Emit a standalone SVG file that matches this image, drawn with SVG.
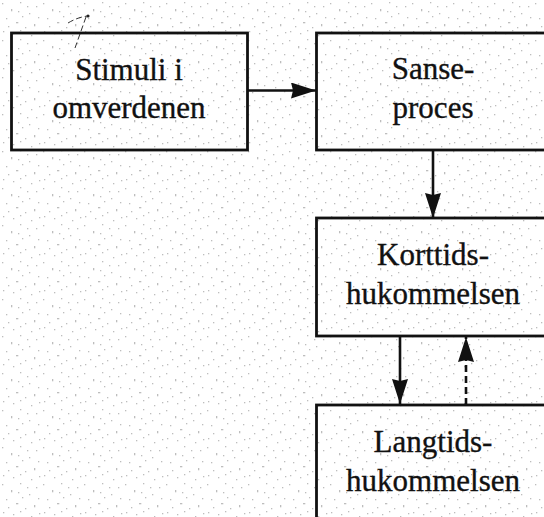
<svg xmlns="http://www.w3.org/2000/svg" width="544" height="517" viewBox="0 0 544 517">
  <style>
    .box { fill: none; stroke: #111; stroke-width: 2.8; }
    .lbl { font-family: "Liberation Serif", "Times New Roman", serif; font-size: 31px; fill: #111; stroke: #111; stroke-width: 0.35; text-anchor: middle; }
    .conn { stroke: #111; stroke-width: 2.6; fill: none; }
    .dash { stroke-dasharray: 7 4; }
  </style>
  <defs>
    <pattern id="speckle" x="0" y="0" width="41" height="37" patternUnits="userSpaceOnUse">
      <g fill="#bdbdbd">
        <rect x="2" y="3" width="1.3" height="1.3"/>
        <rect x="11" y="9" width="1.3" height="2.3"/>
        <rect x="20" y="2" width="1.3" height="1.3"/>
        <rect x="29" y="13" width="1.3" height="1.3"/>
        <rect x="36" y="6" width="1.3" height="1.3"/>
        <rect x="6" y="18" width="1.3" height="1.3"/>
        <rect x="16" y="22" width="2.3" height="1.3"/>
        <rect x="25" y="27" width="1.3" height="1.3"/>
        <rect x="34" y="24" width="1.3" height="2.3"/>
        <rect x="3" y="31" width="1.3" height="1.3"/>
        <rect x="13" y="33" width="1.3" height="1.3"/>
        <rect x="22" y="16" width="1.3" height="1.3"/>
        <rect x="39" y="32" width="1.3" height="1.3"/>
        <rect x="8" y="26" width="1.3" height="1.3"/>
        <rect x="31" y="35" width="1.3" height="1.3"/>
        <rect x="18" y="11" width="1.3" height="1.3"/>
        <rect x="27" y="6" width="1.3" height="1.3"/>
        <rect x="38" y="17" width="1.3" height="1.3"/>
        <rect x="20" y="30" width="1.3" height="1.3"/>
      </g>
    </pattern>
    <marker id="arrow" viewBox="0 0 25 16" refX="25" refY="8" markerWidth="25" markerHeight="16" markerUnits="userSpaceOnUse" orient="auto">
      <path d="M0,0 L25,8 L0,16 L2,8 Z" fill="#111"/>
    </marker>
  </defs>

  <rect x="0" y="0" width="544" height="517" fill="#ffffff"/>
  <rect x="0" y="0" width="544" height="517" fill="url(#speckle)"/>

  <path d="M68,23 Q78,17 88,16 M86,17 L75,48" stroke="#333" stroke-width="1" fill="none" stroke-dasharray="6 3"/>
  <circle cx="88" cy="16" r="1.6" fill="#222"/>

  <g id="connectors">
    <line class="conn" x1="248" y1="90.5" x2="316" y2="90.5" marker-end="url(#arrow)"/>
    <line class="conn" x1="433" y1="150" x2="433" y2="218" marker-end="url(#arrow)"/>
    <line class="conn" x1="400" y1="336" x2="400" y2="404" marker-end="url(#arrow)"/>
    <line class="conn dash" x1="466" y1="405" x2="466" y2="337" marker-end="url(#arrow)"/>
  </g>

  <g id="stimuli">
    <rect class="box" x="11.5" y="33" width="236" height="117"/>
    <text class="lbl" x="129" y="80">Stimuli i</text>
    <text class="lbl" x="129" y="118">omverdenen</text>
  </g>
  <g id="sanseproces">
    <rect class="box" x="316.5" y="33" width="260" height="117"/>
    <text class="lbl" x="433" y="79">Sanse-</text>
    <text class="lbl" x="433" y="118">proces</text>
  </g>
  <g id="korttid">
    <rect class="box" x="316.5" y="218" width="260" height="118"/>
    <text class="lbl" x="433" y="265">Korttids-</text>
    <text class="lbl" x="433" y="304">hukommelsen</text>
  </g>
  <g id="langtid">
    <rect class="box" x="316.5" y="405" width="260" height="150"/>
    <text class="lbl" x="433" y="452">Langtids-</text>
    <text class="lbl" x="433" y="491">hukommelsen</text>
  </g>
</svg>
